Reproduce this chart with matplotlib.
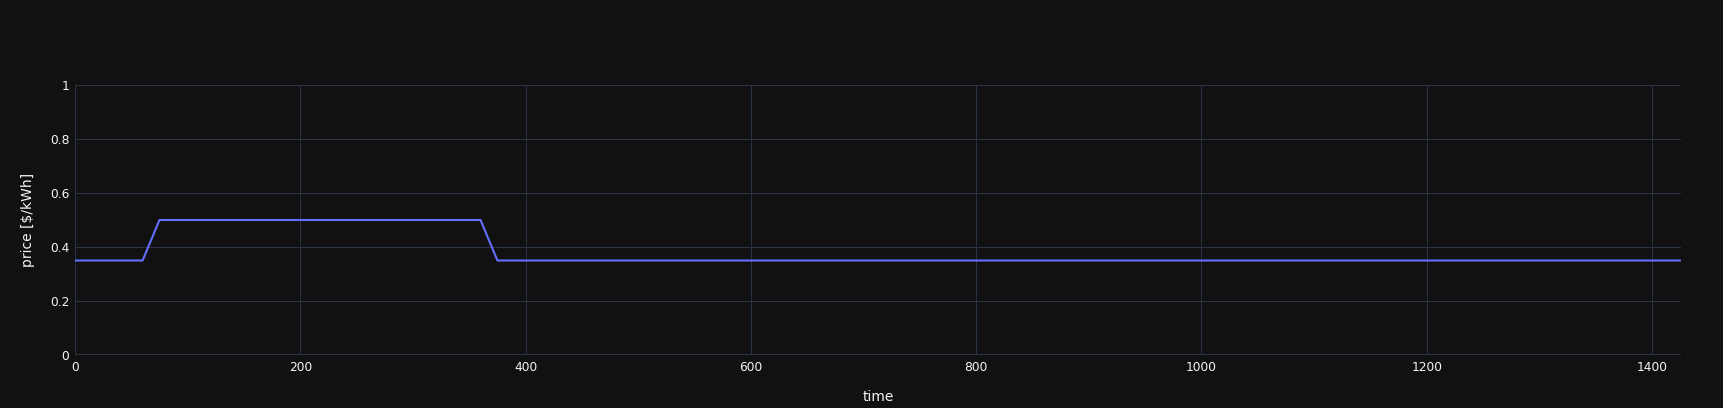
import numpy as np
import matplotlib
matplotlib.use("Agg")
from matplotlib import pyplot as plt

# 15 minute steps over one day
time = np.arange(0, 1440, 15)
price = [0.35] * 5 + [0.5] * 20 + [0.35] * 71

x_ticks = [0, 200, 400, 600, 800, 1000, 1200, 1400]
y_ticks = [0, 0.2, 0.4, 0.6, 0.8, 1]
y_tick_labels = ["0", "0.2", "0.4", "0.6", "0.8", "1"]

bg = "#111111"
grid = "#283442"
text = "#f2f5fa"

fig = plt.figure(figsize=(17.24, 4.08), dpi=100, facecolor=bg)
ax = fig.add_axes([75 / 1724, 1 - 355 / 408, (1681 - 75) / 1724, (355 - 85) / 408])
ax.set_facecolor(bg)

ax.plot(time, price, color="#636efa", linewidth=1.5, solid_joinstyle="round", zorder=3)

ax.set_xlim(0, 1425.7)
ax.set_ylim(0, 1)
ax.set_xticks(x_ticks)
ax.set_xticklabels([str(t) for t in x_ticks])
ax.set_yticks(y_ticks)
ax.set_yticklabels(y_tick_labels)

ax.grid(True, color=grid, linewidth=0.75)
ax.axhline(0, color=grid, linewidth=1.5, zorder=2)
ax.axvline(0, color=grid, linewidth=1.5, zorder=2)
for s in ax.spines.values():
    s.set_visible(False)

ax.tick_params(colors=text, labelsize=8.8, length=0, pad=4)
ax.set_xlabel("time", color=text, fontsize=10, labelpad=12)
ax.set_ylabel("price [$/kWh]", color=text, fontsize=10, labelpad=11)

fig.savefig("out.png", facecolor=bg)
